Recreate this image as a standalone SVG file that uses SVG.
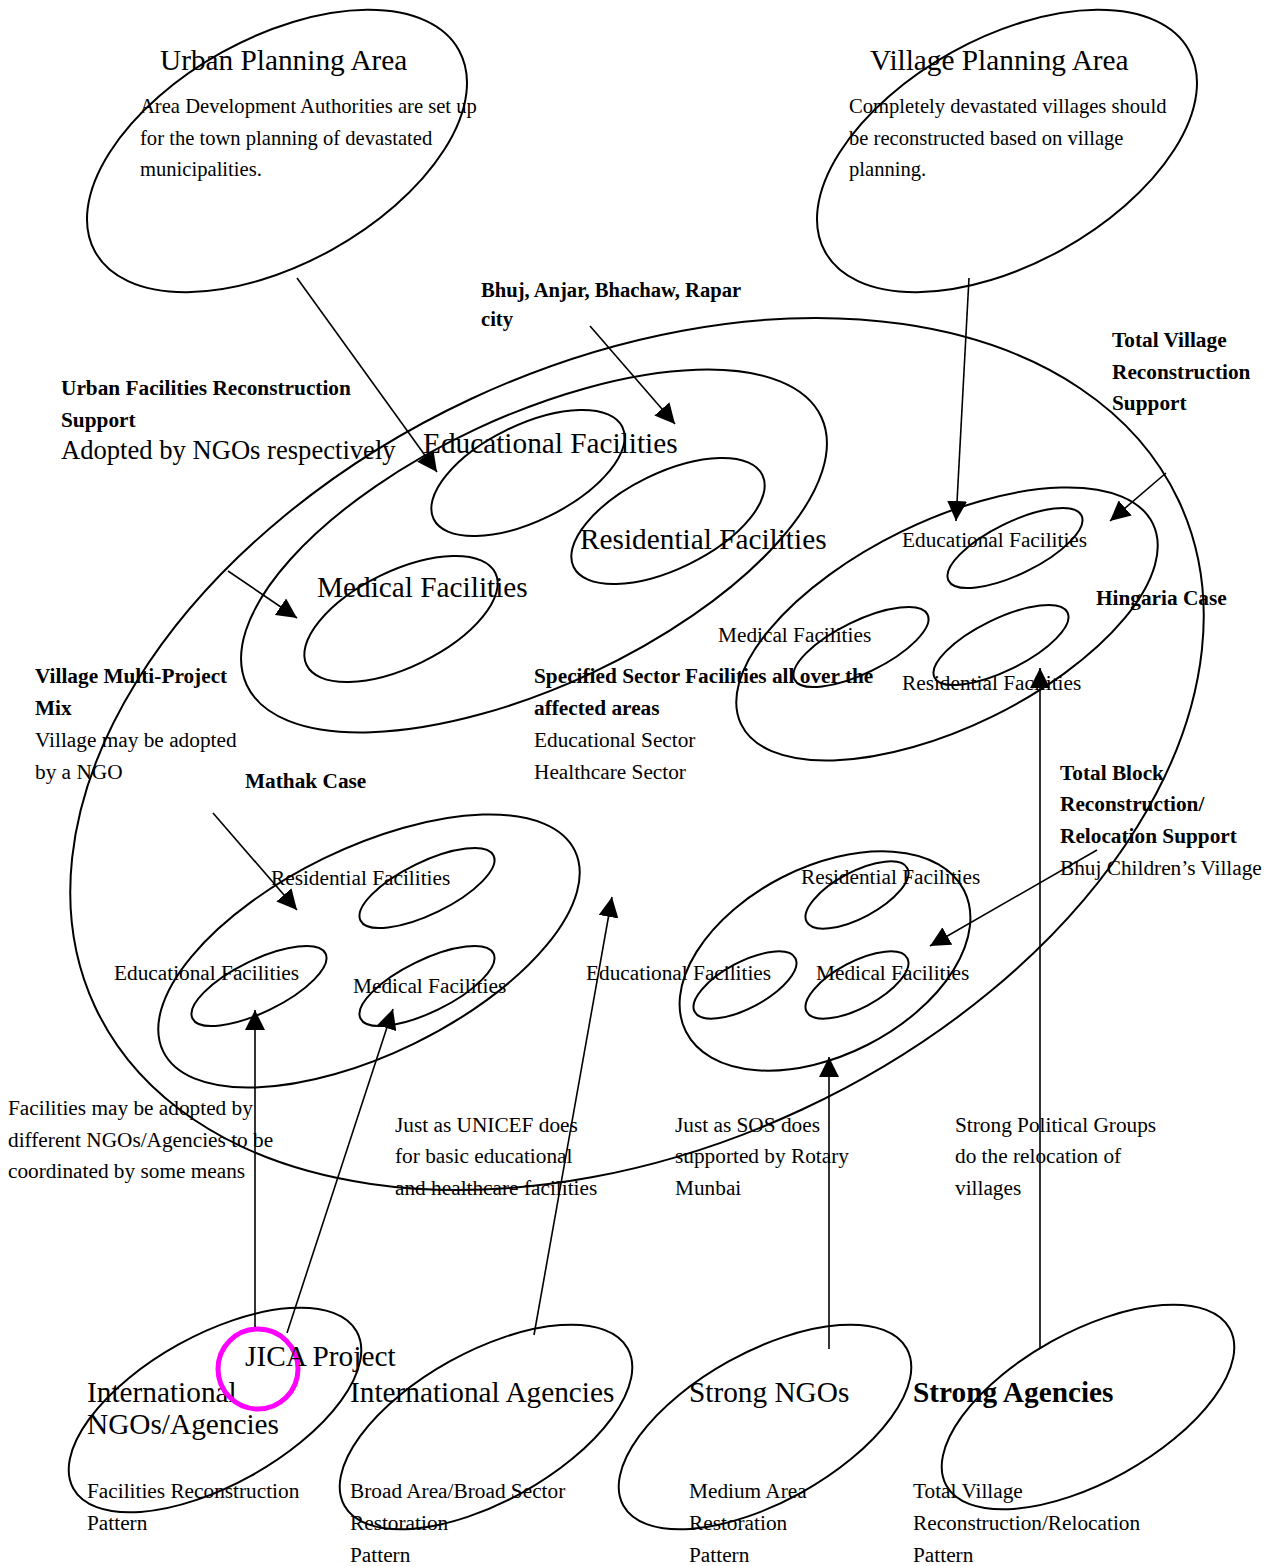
<svg xmlns="http://www.w3.org/2000/svg" width="1271" height="1566" viewBox="0 0 1271 1566">
<style>
.e{fill:none;stroke:#000;stroke-width:2}
.c{fill:none;stroke:#000;stroke-width:1.6}
text{font-family:"Liberation Serif","Times New Roman",serif;fill:#000}
.big{font-size:29.3px}
.mid{font-size:26.6px}
.s{font-size:20.6px}
.m{font-size:21.3px}
.b{font-weight:bold}
</style>
<defs>
<marker id="ah" markerUnits="userSpaceOnUse" markerWidth="20" markerHeight="20" refX="20" refY="10" orient="auto">
<path d="M0,0 L20,10 L0,20 z" fill="#000"/>
</marker>
</defs>
<rect width="1271" height="1566" fill="#fff"/>

<g id="urban-planning-area">
<ellipse class="e" cx="277" cy="151" rx="208" ry="113" transform="rotate(-29 277 151)"/>
<text class="big" x="160" y="70">Urban Planning Area</text>
<text class="s" x="140" y="113">Area Development Authorities are set up</text>
<text class="s" x="140" y="145">for the town planning of devastated</text>
<text class="s" x="140" y="176">municipalities.</text>
</g>

<g id="village-planning-area">
<ellipse class="e" cx="1007" cy="151" rx="208" ry="113" transform="rotate(-29 1007 151)"/>
<text class="big" x="870" y="70">Village Planning Area</text>
<text class="s" x="849" y="113">Completely devastated villages should</text>
<text class="s" x="849" y="145">be reconstructed based on village</text>
<text class="s" x="849" y="176">planning.</text>
</g>

<g id="affected-area">
<ellipse class="e" cx="637" cy="754" rx="598" ry="392" transform="rotate(-25 637 754)"/>
</g>

<g id="urban-facilities">
<ellipse class="e" cx="534" cy="551" rx="317" ry="135" transform="rotate(-25 534 551)"/>
<ellipse class="e" cx="528" cy="473" rx="105" ry="48" transform="rotate(-26 528 473)"/>
<ellipse class="e" cx="668" cy="521" rx="105" ry="48" transform="rotate(-26 668 521)"/>
<ellipse class="e" cx="401" cy="619" rx="105" ry="48" transform="rotate(-26 401 619)"/>
<text class="big" x="423" y="453">Educational Facilities</text>
<text class="big" x="580" y="549">Residential Facilities</text>
<text class="big" x="317" y="597">Medical Facilities</text>
</g>

<g id="hingaria-case">
<ellipse class="e" cx="947" cy="624" rx="229" ry="103" transform="rotate(-26 947 624)"/>
<ellipse class="e" cx="1015" cy="548" rx="74" ry="26" transform="rotate(-26 1015 548)"/>
<ellipse class="e" cx="861" cy="647" rx="74" ry="26" transform="rotate(-26 861 647)"/>
<ellipse class="e" cx="1001" cy="645" rx="74" ry="26" transform="rotate(-26 1001 645)"/>
<text class="m" x="902" y="547">Educational Facilities</text>
<text class="m" x="718" y="642">Medical Facilities</text>
<text class="m" x="902" y="690">Residential Facilities</text>
</g>

<g id="mathak-case">
<ellipse class="e" cx="369" cy="951" rx="229" ry="103" transform="rotate(-26 369 951)"/>
<ellipse class="e" cx="427" cy="888" rx="74" ry="26" transform="rotate(-26 427 888)"/>
<ellipse class="e" cx="259" cy="986" rx="74" ry="26" transform="rotate(-26 259 986)"/>
<ellipse class="e" cx="427" cy="986" rx="74" ry="26" transform="rotate(-26 427 986)"/>
<text class="m" x="271" y="885">Residential Facilities</text>
<text class="m" x="114" y="980">Educational Facilities</text>
<text class="m" x="353" y="993">Medical Facilities</text>
</g>

<g id="bhuj-childrens-village">
<ellipse class="e" cx="825" cy="961" rx="156" ry="94" transform="rotate(-27 825 961)"/>
<ellipse class="e" cx="857" cy="895" rx="57" ry="23" transform="rotate(-28 857 895)"/>
<ellipse class="e" cx="745" cy="985" rx="57" ry="23" transform="rotate(-28 745 985)"/>
<ellipse class="e" cx="857" cy="985" rx="57" ry="23" transform="rotate(-28 857 985)"/>
<text class="m" x="801" y="884">Residential Facilities</text>
<text class="m" x="586" y="980">Educational Facilities</text>
<text class="m" x="816" y="980">Medical Facilities</text>
</g>

<g id="labels">
<text class="s b" x="481" y="297">Bhuj, Anjar, Bhachaw, Rapar</text>
<text class="s b" x="481" y="326">city</text>
<text class="m b" x="61" y="395">Urban Facilities Reconstruction</text>
<text class="m b" x="61" y="427">Support</text>
<text class="mid" x="61" y="459">Adopted by NGOs respectively</text>
<text class="m b" x="1112" y="347">Total Village</text>
<text class="m b" x="1112" y="379">Reconstruction</text>
<text class="m b" x="1112" y="410">Support</text>
<text class="m b" x="1096" y="605">Hingaria Case</text>
<text class="m b" x="35" y="683">Village Multi-Project</text>
<text class="m b" x="35" y="715">Mix</text>
<text class="m" x="35" y="747">Village may be adopted</text>
<text class="m" x="35" y="779">by a NGO</text>
<text class="m b" x="245" y="788">Mathak Case</text>
<text class="m b" x="534" y="683">Specified Sector Facilities all over the</text>
<text class="m b" x="534" y="715">affected areas</text>
<text class="m" x="534" y="747">Educational Sector</text>
<text class="m" x="534" y="779">Healthcare Sector</text>
<text class="m b" x="1060" y="780">Total Block</text>
<text class="m b" x="1060" y="811">Reconstruction/</text>
<text class="m b" x="1060" y="843">Relocation Support</text>
<text class="m" x="1060" y="875">Bhuj Children’s Village</text>
<text class="m" x="8" y="1115">Facilities may be adopted by</text>
<text class="m" x="8" y="1147">different NGOs/Agencies to be</text>
<text class="m" x="8" y="1178">coordinated by some means</text>
<text class="m" x="395" y="1132">Just as UNICEF does</text>
<text class="m" x="395" y="1163">for basic educational</text>
<text class="m" x="395" y="1195">and healthcare facilities</text>
<text class="m" x="675" y="1132">Just as SOS does</text>
<text class="m" x="675" y="1163">supported by Rotary</text>
<text class="m" x="675" y="1195">Munbai</text>
<text class="m" x="955" y="1132">Strong Political Groups</text>
<text class="m" x="955" y="1163">do the relocation of</text>
<text class="m" x="955" y="1195">villages</text>
</g>

<g id="international-ngos-agencies">
<ellipse class="e" cx="215" cy="1410" rx="162" ry="75" transform="rotate(-29 215 1410)"/>
<text class="big" x="87" y="1402">International</text>
<text class="big" x="87" y="1434">NGOs/Agencies</text>
<text class="m" x="87" y="1498">Facilities Reconstruction</text>
<text class="m" x="87" y="1530">Pattern</text>
</g>

<g id="jica-project">
<circle cx="258" cy="1369" r="40" fill="none" stroke="#ff00ff" stroke-width="5"/>
<text class="big" x="245" y="1366">JICA Project</text>
</g>

<g id="international-agencies">
<ellipse class="e" cx="486" cy="1427" rx="162" ry="75" transform="rotate(-29 486 1427)"/>
<text class="big" x="350" y="1402">International Agencies</text>
<text class="m" x="350" y="1498">Broad Area/Broad Sector</text>
<text class="m" x="350" y="1530">Restoration</text>
<text class="m" x="350" y="1562">Pattern</text>
</g>

<g id="strong-ngos">
<ellipse class="e" cx="765" cy="1427" rx="162" ry="75" transform="rotate(-29 765 1427)"/>
<text class="big" x="689" y="1402">Strong NGOs</text>
<text class="m" x="689" y="1498">Medium Area</text>
<text class="m" x="689" y="1530">Restoration</text>
<text class="m" x="689" y="1562">Pattern</text>
</g>

<g id="strong-agencies">
<ellipse class="e" cx="1088" cy="1407" rx="162" ry="75" transform="rotate(-29 1088 1407)"/>
<text class="big b" x="913" y="1402">Strong Agencies</text>
<text class="m" x="913" y="1498">Total Village</text>
<text class="m" x="913" y="1530">Reconstruction/Relocation</text>
<text class="m" x="913" y="1562">Pattern</text>
</g>

<g id="connectors">
<line class="c" x1="297" y1="278" x2="437" y2="472" marker-end="url(#ah)"/>
<line class="c" x1="590" y1="326" x2="675" y2="424" marker-end="url(#ah)"/>
<line class="c" x1="228" y1="571" x2="297" y2="618" marker-end="url(#ah)"/>
<line class="c" x1="969" y1="278" x2="956" y2="521" marker-end="url(#ah)"/>
<line class="c" x1="1166" y1="473" x2="1110" y2="521" marker-end="url(#ah)"/>
<line class="c" x1="1040" y1="1349" x2="1040" y2="668" marker-end="url(#ah)"/>
<line class="c" x1="1097" y1="850" x2="930" y2="946" marker-end="url(#ah)"/>
<line class="c" x1="829" y1="1349" x2="829" y2="1057" marker-end="url(#ah)"/>
<line class="c" x1="534" y1="1335" x2="612" y2="897" marker-end="url(#ah)"/>
<line class="c" x1="255" y1="1327" x2="255" y2="1010" marker-end="url(#ah)"/>
<line class="c" x1="287" y1="1333" x2="393" y2="1009" marker-end="url(#ah)"/>
<line class="c" x1="213" y1="813" x2="297" y2="910" marker-end="url(#ah)"/>
</g>
</svg>
